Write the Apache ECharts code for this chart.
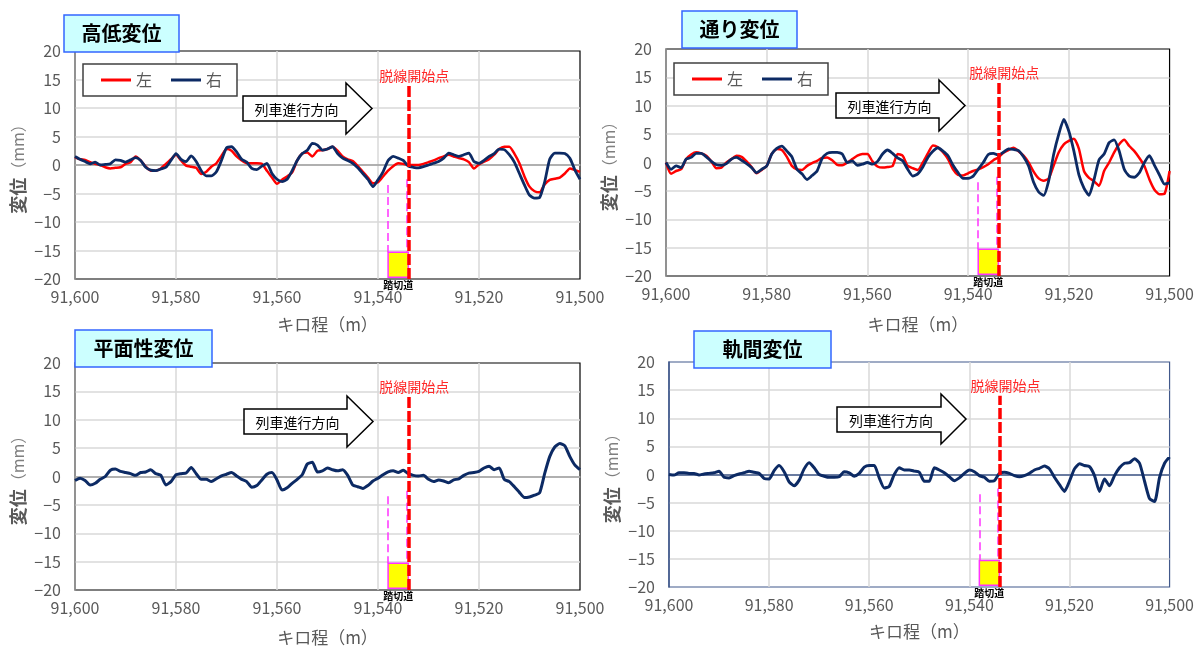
<!DOCTYPE html>
<html>
<head>
<meta charset="utf-8">
<script src="https://cdn.jsdelivr.net/npm/echarts@6/dist/echarts.min.js"></script>
<style>
  html, body { margin: 0; padding: 0; background: #fff; }
  #chart { width: 1197px; height: 648px; }
</style>
</head>
<body>
<div id="chart"></div>
<script>
// キロ程 (m), 1 m 刻み
const kilo = Array.from({length: 101}, (_, i) => 91600 - i);

// 高低変位
const kouteiLeft = [1.4,1.0,0.9,0.5,0.2,0.0,-0.4,-0.6,-0.5,-0.4,
  0.2,0.5,1.5,0.8,-0.3,-1.0,-1.0,-0.6,0.2,1.0,
  1.8,0.8,-0.1,-0.3,-0.5,-1.6,-1.2,-0.3,0.3,1.6,
  2.8,2.5,1.5,0.8,0.3,0.3,0.3,0.2,-1.0,-2.2,
  -3.3,-2.6,-2.0,-1.3,0.8,2.0,2.2,1.5,2.5,2.6,
  2.8,3.2,2.5,1.5,1.0,0.7,-0.2,-1.2,-2.2,-3.2,
  -3.0,-2.0,-1.0,-0.2,0.3,0.2,0.0,0.0,0.0,0.2,
  0.5,0.8,1.2,1.5,1.8,1.5,1.2,1.0,0.5,-0.6,
  0.1,0.6,1.0,1.8,2.8,3.2,3.2,2.0,0.3,-2.0,
  -3.8,-4.6,-4.8,-3.4,-2.6,-2.4,-2.2,-1.5,-0.6,-0.9,
  -1.2];
const kouteiRight = [1.5,1.0,0.6,0.2,0.5,0.0,0.1,0.2,0.9,0.8,
  0.5,0.9,1.3,0.8,-0.4,-0.9,-1.0,-0.7,-0.4,0.8,
  2.0,1.0,0.6,1.6,0.6,-1.0,-1.9,-1.9,-1.2,0.8,
  3.0,3.2,2.3,1.0,0.5,-0.6,-0.8,-0.2,0.3,-1.5,
  -2.5,-2.9,-2.5,-1.0,0.8,2.0,2.6,3.8,3.5,2.6,
  2.8,3.2,2.0,1.2,0.8,0.3,-0.5,-1.5,-2.5,-3.8,
  -2.6,-1.2,0.8,1.5,1.2,0.8,-0.2,-0.4,-0.5,-0.3,
  0.0,0.3,0.6,1.2,2.1,1.8,1.5,1.8,2.1,0.6,
  0.3,0.8,1.5,2.0,2.8,2.7,1.8,0.5,-1.5,-3.5,
  -5.3,-5.8,-5.7,-3.0,1.0,2.1,2.1,2.0,1.2,-0.9,
  -2.5];

// 通り変位
const toriLeft = [0.0,-2.0,-1.5,-1.2,0.6,1.4,1.8,1.6,1.2,0.2,
  -1.0,-0.9,0.0,0.6,1.2,1.0,0.2,-0.8,-1.9,-1.3,
  -0.6,1.5,2.4,2.2,1.0,-0.6,-1.2,-1.3,-0.6,-0.1,
  0.3,0.8,0.9,0.4,-0.4,-0.5,0.0,0.6,1.2,1.5,
  1.5,0.2,-0.7,-0.9,-0.8,-0.6,1.5,1.2,-0.6,-1.0,
  -1.3,0.0,1.6,3.0,2.7,1.8,0.6,-1.2,-2.2,-2.3,
  -1.9,-1.5,-1.2,-0.8,-0.3,0.4,0.9,1.7,2.2,2.6,
  2.0,1.2,0.0,-1.6,-2.8,-3.2,-2.8,-0.5,1.8,3.2,
  3.8,4.2,2.4,-1.5,-2.7,-3.3,-4.1,-1.5,0.0,1.8,
  3.2,4.0,2.9,2.0,0.8,-0.6,-3.0,-4.8,-5.6,-5.5,
  -1.5];
const toriRight = [0.0,-1.2,-0.6,-0.9,0.6,0.9,1.6,1.6,1.0,0.2,
  -0.4,-0.5,-0.2,0.6,0.9,0.4,-0.2,-0.9,-1.8,-1.2,
  -0.6,1.5,2.5,2.9,2.0,1.0,-1.2,-2.0,-3.0,-2.3,
  -1.5,0.7,1.6,1.8,1.8,1.5,0.0,0.3,-0.5,-0.3,
  0.0,-0.3,0.2,1.5,2.2,1.6,0.8,0.3,-1.2,-2.4,
  -2.0,-0.8,0.9,2.0,2.6,2.0,1.2,-0.5,-1.8,-2.8,
  -2.8,-2.4,-1.2,0.0,1.4,1.6,1.3,1.8,2.4,2.3,
  2.1,1.0,-0.6,-3.5,-5.2,-5.8,-3.2,1.5,5.0,7.6,
  5.5,2.0,-2.2,-4.5,-5.8,-3.0,0.5,1.5,3.5,4.0,
  2.0,-1.2,-2.4,-2.6,-1.8,0.0,1.2,-0.5,-2.2,-3.8,
  -3.6];

// 平面性変位
const heimen = [-0.7,-0.3,-0.7,-1.5,-1.2,-0.5,0.0,1.1,1.3,0.9,
  0.7,0.5,0.2,0.7,0.8,1.2,0.5,0.2,-1.5,-0.9,
  0.3,0.5,0.6,1.6,0.5,-0.5,-0.5,-0.9,-0.4,0.1,
  0.4,0.7,0.1,-0.5,-0.9,-1.9,-1.6,-0.6,0.4,0.7,
  -0.6,-2.4,-2.0,-1.2,-0.5,0.3,2.2,2.5,0.8,1.0,
  1.5,1.2,1.0,1.2,0.2,-1.5,-1.8,-2.1,-1.6,-0.8,
  -0.3,0.3,0.8,1.0,0.7,1.1,0.5,0.2,0.1,0.2,
  -0.5,-0.9,-0.6,-0.8,-1.1,-0.6,-0.4,0.2,0.6,0.7,
  0.9,1.5,1.8,1.2,1.5,-0.5,-0.9,-1.8,-2.8,-3.7,
  -3.6,-3.3,-2.9,0.5,3.5,5.2,5.8,5.4,3.5,2.0,
  1.2];

// 軌間変位
const kikan = [0.0,-0.1,0.3,0.3,0.2,0.2,-0.1,0.1,0.2,0.3,
  0.6,-0.5,-0.6,-0.2,0.1,0.3,0.6,0.4,0.2,-0.7,
  -0.8,0.7,1.6,0.5,-1.3,-2.0,-1.0,1.0,2.1,1.2,
  0.0,-0.3,-0.5,-0.5,-0.4,0.5,0.3,-0.3,0.2,1.3,
  1.6,1.6,-0.6,-2.4,-2.1,0.0,1.2,0.8,0.8,0.6,
  0.4,-1.2,-1.2,1.2,0.8,0.3,-0.4,-1.1,-0.6,0.2,
  0.8,0.5,-0.2,-0.5,-1.2,-1.1,0.2,0.4,0.2,-0.2,
  -0.4,-0.2,0.2,0.8,1.1,1.5,1.0,-0.5,-1.8,-3.0,
  -1.2,1.0,1.9,1.6,1.4,-0.2,-3.0,-0.8,-2.0,-0.2,
  1.2,2.0,2.1,2.8,2.0,-1.2,-4.3,-4.8,-0.5,2.0,
  3.1];

// 注記
const derailKm = 91534;      // 脱線開始点
const crossingKm = [91538, 91534]; // 踏切道
const panelTitles = ['高低変位', '通り変位', '平面性変位', '軌間変位'];

const RED = '#ff0000';
const NAVY = '#0c2a64';
const FONT = "'Noto Sans CJK JP', sans-serif";

function pairs(vals) {
    return vals.map((v, i) => [kilo[i], v]);
}

const chart = echarts.init(document.getElementById('chart'));

const grids = [
    {left: 75, top: 51, width: 505, height: 228},
    {left: 666, top: 49, width: 505, height: 227},
    {left: 75, top: 363, width: 505, height: 227},
    {left: 669, top: 362, width: 506, height: 225}
];
const borderColors = ['#000', '#000', '#000', '#41598b'];
const axisLineColors = ['#a0a0a0', '#a0a0a0', '#a0a0a0', '#41598b'];
const xNameGaps = [37, 40, 39, 36];

function markers() {
    return {
        markLine: {
            silent: true,
            symbol: 'none',
            animation: false,
            data: [
                [
                    {coord: [crossingKm[0], -3.5]},
                    {coord: [crossingKm[0], -15.3]}
                ],
                [
                    {coord: [crossingKm[1] + 0.4, -2.5]},
                    {coord: [crossingKm[1] + 0.4, -15.3]}
                ],
                [
                    {
                        coord: [derailKm, -20],
                        lineStyle: {color: RED, width: 3.5, type: [11, 3]},
                        label: {
                            show: true, position: 'end', formatter: '脱線開始点',
                            color: '#ff2a2a', fontSize: 14, fontFamily: FONT,
                            padding: [0, 0, 0, 12], distance: 3
                        }
                    },
                    {coord: [derailKm, 14]}
                ]
            ],
            lineStyle: {color: '#ff33ff', width: 1.5, type: [8, 4]},
            label: {show: false}
        },
        markArea: {
            silent: true,
            data: [[
                {coord: [crossingKm[0], -15.3]},
                {coord: [crossingKm[1], -19.7]}
            ]],
            itemStyle: {color: '#ffff00', borderColor: '#ff33ff', borderWidth: 1.5},
            label: {
                show: true, position: 'bottom', formatter: '踏切道',
                color: '#000', fontSize: 10, fontWeight: 'bold', fontFamily: FONT, distance: 2
            }
        }
    };
}

const xAxes = grids.map((g, i) => ({
    gridIndex: i,
    type: 'value',
    inverse: true,
    min: 91500,
    max: 91600,
    interval: 20,
    name: 'キロ程（m）',
    nameLocation: 'middle',
    nameGap: xNameGaps[i],
    nameTextStyle: {fontSize: 17, color: '#595959', fontFamily: FONT},
    axisLine: {show: true, lineStyle: {color: axisLineColors[i], width: 1.5}},
    axisTick: {show: false},
    axisLabel: {
        fontSize: 16, color: '#595959', margin: 10, fontFamily: FONT,
        formatter: v => v.toLocaleString('en-US')
    },
    splitLine: {show: true, showMinLine: false, showMaxLine: false,
        lineStyle: {color: '#d9d9d9', width: 1.5}}
}));

const yAxes = grids.map((g, i) => ({
    gridIndex: i,
    type: 'value',
    min: -20,
    max: 20,
    interval: 5,
    name: '{a|変位}{b|（mm）}',
    nameLocation: 'middle',
    nameGap: 48,
    nameTextStyle: {
        fontFamily: FONT,
        rich: {
            a: {fontSize: 18, color: '#595959', fontWeight: 'bold', fontFamily: FONT},
            b: {fontSize: 16, color: '#7f7f7f', fontFamily: FONT}
        }
    },
    axisLine: {show: true, lineStyle: {color: axisLineColors[i], width: 1.5}},
    axisTick: {show: false},
    axisLabel: {
        fontSize: 16, color: '#595959', margin: 14, fontFamily: FONT,
        formatter: v => (v < 0 ? '\u2212' + Math.abs(v) : String(v))
    },
    splitLine: {show: true, showMinLine: false, showMaxLine: false,
        lineStyle: {color: '#d9d9d9', width: 1.5}}
}));

function line(name, data, color, idx, width, extra) {
    return Object.assign({
        name: name,
        type: 'line',
        xAxisIndex: idx,
        yAxisIndex: idx,
        data: pairs(data),
        showSymbol: false,
        symbol: 'none',
        smooth: 0.2,
        lineStyle: {color: color, width: width},
        itemStyle: {color: color},
        z: 3
    }, extra || {});
}

const series = [
    line('左', kouteiLeft, RED, 0, 2.5),
    line('右', kouteiRight, NAVY, 0, 2.8, markers()),
    line('左', toriLeft, RED, 1, 2.5),
    line('右', toriRight, NAVY, 1, 2.8, markers()),
    line('平面性', heimen, NAVY, 2, 3, markers()),
    line('軌間', kikan, NAVY, 3, 3, markers())
];

function legendAt(left, top) {
    return {
        left: left, top: top,
        data: ['左', '右'],
        selectedMode: false,
        icon: 'rect',
        itemWidth: 30, itemHeight: 3, itemGap: 19,
        padding: [8, 15, 8, 18],
        backgroundColor: '#fff',
        borderColor: '#404040', borderWidth: 1.5,
        textStyle: {fontSize: 16, color: '#595959', fontFamily: FONT}
    };
}

// タイトル枠
const titleBoxes = [
    {x: 64, y: 15, w: 115, h: 37},
    {x: 682, y: 11, w: 115, h: 37},
    {x: 75, y: 330, w: 137, h: 37},
    {x: 694, y: 331, w: 137, h: 37}
];

// 列車進行方向の矢印 [本体左, 本体上, 本体下, 矢じり根元, 矢じり上, 矢じり下, 先端]
const arrows = [
    [243, 96, 121, 346, 83, 134, 372],
    [836, 93, 118, 939, 80, 131, 965],
    [244, 409, 434, 347, 396, 447, 373],
    [837, 407, 432, 941, 394, 444, 966]
];

const graphics = [];
titleBoxes.forEach((b, i) => {
    graphics.push({
        type: 'rect', z: 100,
        shape: {x: b.x, y: b.y, width: b.w, height: b.h},
        style: {fill: '#ccffff', stroke: '#3366ff', lineWidth: 1.5}
    });
    graphics.push({
        type: 'text', z: 101,
        style: {
            x: b.x + b.w / 2, y: b.y + b.h / 2, text: panelTitles[i],
            align: 'center', verticalAlign: 'middle',
            font: 'bold 20px ' + FONT, fill: '#000'
        }
    });
});
arrows.forEach(a => {
    const [l, bt, bb, hb, ht, hbo, tip] = a;
    const my = (ht + hbo) / 2;
    graphics.push({
        type: 'polygon', z: 100,
        shape: {points: [[l, bt], [hb, bt], [hb, ht], [tip, my], [hb, hbo], [hb, bb], [l, bb]]},
        style: {fill: '#fff', stroke: '#000', lineWidth: 1.5}
    });
    graphics.push({
        type: 'text', z: 101,
        style: {
            x: (l + hb) / 2 + 2, y: (bt + bb) / 2 + 1, text: '列車進行方向',
            align: 'center', verticalAlign: 'middle',
            font: '14px ' + FONT, fill: '#000'
        }
    });
});

chart.setOption({
    animation: false,
    textStyle: {fontFamily: FONT},
    grid: grids.map((g, i) => Object.assign({show: true, borderColor: borderColors[i], borderWidth: 1.2, backgroundColor: 'transparent'}, g)),
    xAxis: xAxes,
    yAxis: yAxes,
    legend: [legendAt(83, 64), legendAt(674, 63)],
    series: series,
    graphic: graphics
});
</script>
</body>
</html>
